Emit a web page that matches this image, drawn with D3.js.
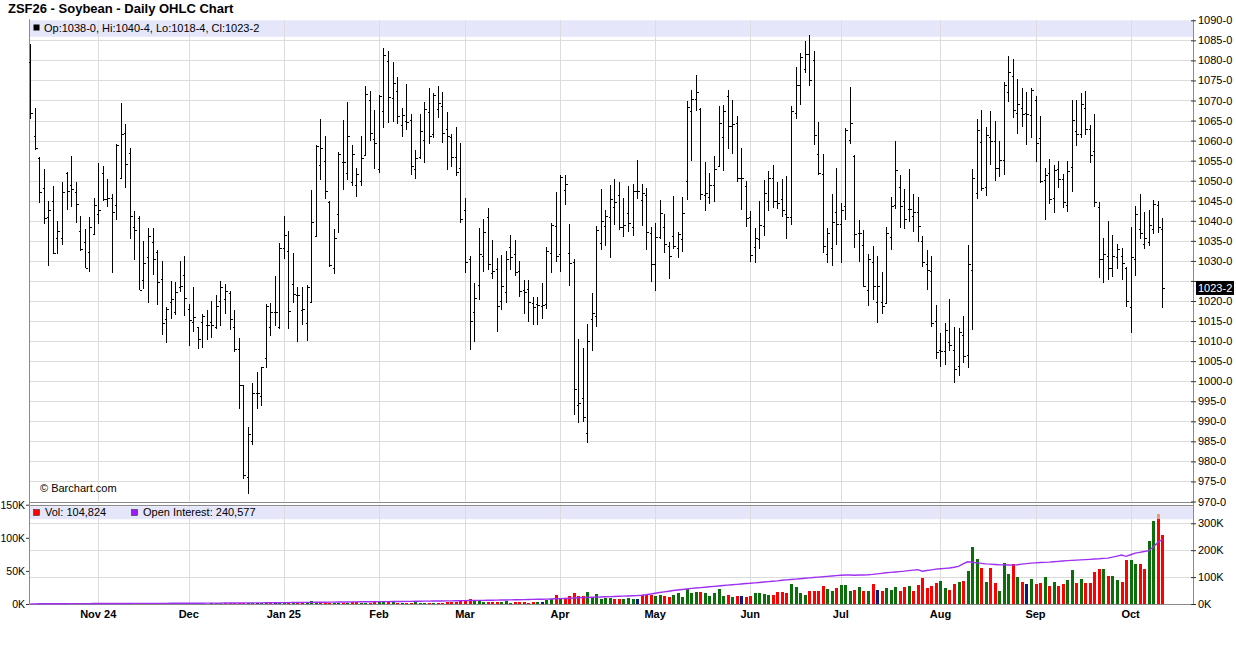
<!DOCTYPE html>
<html><head><meta charset="utf-8">
<script src="https://cdn.jsdelivr.net/npm/d3@7"></script>
<style>
body{margin:0;background:#fff;}
svg{display:block;font-family:"Liberation Sans",Arial,sans-serif;}
</style>
</head><body>
<svg id="c" width="1236" height="645"></svg>
<script>
// ---------------- DATA ----------------
const chartTitle = "ZSF26 - Soybean - Daily OHLC Chart";
const opens = [1079.5,1061.25,1055.75,1048.25,1041,1045,1035.75,1035.75,1052,1049,
1047.25,1037.5,1034.75,1032.25,1036.75,1041.75,1052,1045.5,1045.75,1044,
1050.75,1062,1057,1038.5,1040.75,1025.25,1031,1034.75,1032.25,1025.5,
1015.5,1019.75,1017.25,1023.5,1026.5,1018,1014.75,1013.5,1014.75,1014,
1014.75,1013.5,1020,1020.5,1022,1013.5,1008,999,976,985,
997,996.25,1005.75,1013.5,1017.25,1013.5,1033.25,1032.5,1024.25,1021.5,
1017.75,1014.5,1019.75,1036.25,1054,1055,1044.75,1028.25,1041.75,1054.75,
1052,1049.75,1049,1050,1056.5,1070,1060.5,1053,1067.5,1079.75,
1070.5,1072.25,1064,1065,1065.25,1053,1056,1060.25,1067.25,1061.75,
1068,1068.75,1063,1061,1056,1053.25,1042.75,1030.5,1017.25,1024,
1031.25,1041,1027,1028,1020,1022.25,1033.5,1031.75,1027.5,1022.75,
1023,1019.5,1019.25,1018.75,1019.25,1032,1038.75,1031.75,1047.75,1032,
1029.75,994,995.75,987,1015.5,1016.25,1034.5,1038.75,1041,1043.5,
1046.5,1038.5,1042,1038.5,1047.5,1045.25,1046.5,1037,1029.25,1036,
1038.5,1033.75,1036.25,1033.25,1035.5,1050,1067.5,1070.25,1068,1046.5,
1046,1049,1053.75,1061,1071,1063.75,1064.5,1050.75,1048.75,1041,
1033.5,1035.5,1038.75,1045,1050.75,1045,1045.5,1041.75,1041,1067,
1073.75,1077.75,1081.5,1080,1056.75,1051.75,1031.75,1033.25,1042.25,1039.25,
1043.75,1060.25,1056.25,1037,1034,1022.75,1029.75,1019.75,1019.75,1019.5,
1036,1044,1048.5,1045,1043,1041.25,1042.25,1035,1029.25,1027.5,
1015,1007.75,1007.5,1009.75,1007.75,1003.75,1011.5,1006.5,1027.75,1047,
1059.75,1048.5,1061,1060,1053.25,1055.25,1072,1076,1067,1068.25,
1067,1066.5,1070,1060.75,1050.25,1052,1045.75,1053,1050.5,1044,
1053.5,1062.5,1061.75,1068.25,1063,1057.5,1043.5,1030.5,1031.25,1028.25,
1031,1031.25,1028.25,1018.5,1030.5,1038,1034.25,1034.75,1038,1044,
1038];
const highs = [1084,1068,1055.75,1052.75,1044.75,1048.5,1039.75,1049.5,1052,1056,
1049.5,1041,1037.75,1040.75,1045.5,1054.25,1053.5,1050.25,1046.5,1059,
1069.25,1064,1058,1042.25,1041,1034.75,1038,1038,1032.5,1029.75,
1018.5,1024.75,1024.5,1029.75,1031,1019.25,1023.25,1013.5,1016.75,1017.75,
1020,1021.25,1024.75,1024,1022.25,1017.75,1010.75,999,988.5,999.5,
1002.25,1003.5,1019.25,1019.5,1026,1034.25,1041,1037.25,1031.75,1023.25,
1023.25,1023.75,1047.5,1058.75,1065.25,1061,1044.75,1037.75,1057,1065,
1069.5,1058.75,1053,1061,1073.5,1072.25,1067.5,1071.25,1083,1082.25,
1079.5,1075.75,1068,1074,1066.5,1057.5,1066.5,1069.5,1073,1071.75,
1073.5,1072,1067,1061.5,1063.25,1059.25,1045.5,1031,1024.25,1038,
1040.25,1043,1035,1030.5,1031.25,1032.25,1036.25,1035,1029.75,1025,
1025,1020.75,1020.75,1024.25,1033.25,1039.25,1047,1051.25,1051.25,1039,
1030.25,1010.5,1008.25,1014.25,1021.75,1038.5,1047.75,1042.5,1048.75,1050.25,
1049.5,1045.5,1048.5,1049,1055,1049,1048,1038.25,1039.25,1045,
1041.5,1034.5,1046,1037,1045.75,1069.75,1072.5,1076.25,1068,1054.5,
1051.75,1056,1068.5,1068.75,1072.5,1070,1066,1058,1049.75,1042.25,
1038,1044.75,1050,1052.25,1053.75,1049.5,1050.25,1051,1068.5,1078.25,
1081.75,1084.75,1086.25,1082.25,1064.5,1056.5,1038,1046.5,1053,1044.25,
1063,1073.25,1056.25,1040,1037.5,1031.5,1033.5,1031,1027,1038.25,
1045.75,1059.75,1051.25,1047.75,1052.75,1046.5,1045.75,1036,1032.5,1031,
1019,1012,1014.5,1020.25,1013.5,1013.25,1016.25,1033.75,1052.75,1065.25,
1067.5,1063.25,1067.25,1064.75,1059.75,1074.5,1081,1080.25,1075.25,1073,
1072,1073,1071,1066,1053,1055.25,1053.75,1054.75,1051.5,1054.75,
1070,1070,1071.75,1072.25,1063.75,1066.5,1044.5,1035.5,1039.75,1036.25,
1034,1033,1028.25,1038.25,1043.5,1046.5,1042,1042.5,1045,1044.75,
1040.5];
const lows = [1065.5,1057.75,1044.5,1039.25,1028.75,1031.75,1031.75,1034,1042.75,1043.5,
1039.5,1032.5,1028.25,1027.25,1036.5,1039.25,1045,1043.5,1027,1040.25,
1050.75,1048.25,1035.5,1030.25,1022.75,1023,1019.75,1026.5,1019.25,1011.75,
1009.75,1015.75,1016.75,1022.25,1016.5,1009,1012.5,1008.25,1008.5,1010.5,
1011,1013.25,1014,1017,1013,1007.5,993.25,975.75,972,984.25,
993.25,994,1003.5,1011.5,1014,1013.25,1030.5,1013.25,1019.75,1010,
1014.25,1010.25,1019.75,1036.25,1050.25,1045.5,1028.5,1026.75,1037,1047.75,
1050.25,1048.75,1046,1048.75,1056.5,1060,1053,1052,1063.25,1064.5,
1064.75,1064.25,1061,1062.75,1051.5,1050.5,1055.5,1054.5,1059.25,1060.75,
1065.75,1059.5,1052.75,1053.5,1051.25,1039.5,1027,1008,1010,1020.25,
1027.25,1027.75,1025.5,1012.5,1018,1019.75,1027.75,1026.25,1021,1017,
1015,1014.25,1014.25,1015.75,1018.25,1027,1029.75,1027.25,1044,1023.75,
991.75,989.75,990,984.75,1007.75,1013.75,1032.75,1033.75,1030.75,1039,
1037.75,1036,1037.25,1036.25,1045.5,1038.75,1032.75,1024.75,1022.5,1035.5,
1032,1025.5,1033,1030.75,1032.25,1045.25,1055,1067.5,1045.25,1042.5,
1044.25,1044.75,1053.75,1052.5,1058,1056.75,1049.75,1042.75,1038.5,1029.75,
1029.5,1033,1036.25,1042.5,1043.25,1043,1041,1035.5,1039,1065.5,
1069,1077,1073.75,1059,1051.5,1032,1029.5,1028.75,1034,1029.5,
1040.25,1059.25,1033.25,1029.75,1023.5,1019,1020.25,1014.75,1017,1019.5,
1032.75,1043,1038.25,1038,1039.75,1037.25,1034.75,1028.5,1022.75,1013.75,
1005.75,1003.75,1004.25,1007.75,999.75,1001.5,1004.75,1003.5,1013,1045.5,
1047.5,1046.25,1054,1050,1051,1051.5,1069.75,1065.75,1061.75,1063.5,
1059,1060.75,1054.75,1049.5,1040.25,1044.25,1042,1048.25,1043.25,1042.25,
1047.25,1058.75,1060.75,1061.5,1054.5,1043.5,1025.75,1024.5,1025.25,1026,
1028,1025.25,1018.75,1012.25,1026.25,1035.5,1033,1033.75,1036.75,1037,
1018.5];
const closes = [1067,1058.25,1047.25,1040.75,1042.75,1032,1037.5,1047.25,1047.5,1048,
1044.25,1033,1028.25,1038.5,1044,1042.75,1045.5,1045.75,1042.25,1059,
1061.75,1054.25,1041.25,1037.75,1022.75,1029.5,1036.25,1030.5,1024.75,1014.5,
1018,1020.5,1022.25,1023.75,1020.75,1015.25,1016,1010.5,1016.25,1014,
1014,1018.75,1023.5,1022.5,1015.5,1008,999,976.5,986.75,997,
997,1003.5,1018.75,1017.25,1017.25,1033.25,1036.5,1017.5,1021.75,1021.5,
1018,1023.5,1039.75,1058.75,1058.25,1047.5,1029,1035.75,1056.75,1054.75,
1061.25,1056.75,1051.75,1055.75,1071.5,1062,1059.5,1071,1081.25,1070.75,
1074.25,1066.25,1066.5,1064.75,1053.75,1055.75,1062.5,1068,1061.25,1071.25,
1069.5,1062,1061.25,1056,1052.25,1040.5,1029.75,1015,1020.75,1031.75,
1037.25,1029.25,1027.5,1018.75,1023.75,1030.5,1031,1027.25,1022.5,1022.25,
1019.75,1018.5,1019,1019,1032.5,1039,1031.25,1051,1049.25,1029.5,
998,994.5,991,1010,1017,1037.75,1040,1041.25,1045.5,1044.75,
1038.5,1039,1039.5,1047.5,1047.5,1047,1037.25,1029.25,1036,1042,
1034.25,1031.25,1033.75,1036.75,1042,1068.5,1070.25,1072,1046.75,1047,
1049,1053,1064.5,1067.5,1063.75,1064.25,1050.75,1050.75,1040.75,1031.5,
1035.75,1039,1047,1050.75,1045,1044.5,1042.75,1041,1067.5,1073.75,
1080.75,1081.5,1075,1061.5,1052,1033.75,1037,1039.75,1039.25,1042.75,
1062.75,1064.5,1036.75,1037,1023.75,1030.5,1023.75,1023.75,1018.75,1037,
1043.75,1052.75,1043.75,1040.5,1043,1042.25,1038.75,1029.75,1027.75,1014.5,
1007.25,1007.5,1012.75,1009,1003,1012.25,1006.25,1029.25,1050.75,1062.75,
1048.25,1061.5,1060,1053.25,1055.25,1073.75,1077,1067.75,1069.25,1066.75,
1066.75,1072.5,1059.5,1050,1051.5,1045.5,1052.75,1050.5,1044.75,1052.5,
1065.25,1061.75,1069.25,1063,1056.5,1044.75,1030.5,1031.75,1028.25,1031.25,
1033,1029.5,1020,1031,1041.75,1037,1035.75,1039,1044.25,1038.5,
1023.25];
// daily volume, thousands of contracts
const volumeK = [0.2,0.3,0.2,0.4,0.3,0.5,0.3,0.4,0.6,0.4,0.5,0.3,0.4,0.6,0.5,0.4,0.7,0.5,0.6,0.9,
1.8,0.6,0.8,0.5,0.7,0.6,0.8,0.5,0.6,0.7,0.9,0.6,0.8,0.7,0.5,0.9,
0.8,0.6,0.9,0.7,1.0,0.8,1.0,0.9,1.1,0.8,1.2,1.5,1.8,1.2,1.0,0.9,1.1,1.3,1.0,1.2,1.4,
1.2,1.5,1.3,1.6,1.4,4.5,2.5,2.0,1.8,1.6,1.9,2.2,1.7,2.0,3.0,2.4,2.0,1.8,2.2,2.6,2.8,3.5,3.0,2.4,2.0,
1.0,1.0,1.0,3.0,1.5,1.5,1.5,1.5,1.5,1.5,3.0,3.0,3.0,4.0,4.5,7.5,5.0,6.0,3.5,3.0,
3.0,3.0,3.5,4.5,1.5,3.0,3.0,3.0,1.5,3.0,3.0,3.0,6.0,7.5,13.5,7.5,7.5,12,16,12,
12,18,10,15,8,9,9,7.5,7.5,7.5,9,8,7.5,13.5,13.5,13.5,12,13,11.5,10,
13.5,16.5,10.5,22.5,16.5,18,18,16,12,16,22.5,12,13,10,12,12,10.5,12,16,16,
15,13.5,13.5,18,18,16.5,30,26,16.5,13.5,20,20,20,
26.7,22.7,19.6,23.7,28.7,28.7,19.6,21.1,25.7,19.6,19.6,30.2,21.1,19.6,24.2,21.1,25.7,19.6,26.2,27.2,
19.6,28.7,39.3,24.2,27.2,31.7,34.7,24.2,21.7,30.2,33.2,34.7,50.4,86.1,68,54.4,33.2,54.4,31.7,19.6,
61.9,45.3,60.4,40.8,33.2,30.2,37.8,30.2,31.7,40.8,27.2,33.2,27.2,30.2,36.3,51.4,31.7,37.8,31.7,31.7,
48.3,52.9,52.9,42.3,42.3,36.3,33.2,66.5,66.5,60.4,60.4,52.9,95.2,125.4,128.4,104.824];
// open interest, thousands of contracts
const openInterestK = [0.5,0.6,0.7,0.8,0.9,1.0,1.1,1.1,1.2,1.3,1.3,1.4,1.5,1.5,1.6,1.7,
1.8,1.8,1.9,2.0,2.0,2.1,2.1,2.2,2.2,2.3,2.3,2.4,2.4,2.5,2.5,2.6,2.6,2.7,2.7,2.8,
2.9,3.0,3.0,3.1,3.2,3.3,3.4,3.5,3.6,3.7,3.8,3.9,4.0,4.1,4.2,4.3,4.4,4.5,4.6,4.8,5.0,
5.1,5.3,5.5,5.7,5.9,6.1,6.3,6.5,6.7,6.9,7.0,7.2,7.4,7.6,7.8,8.0,8.2,8.3,8.5,8.6,8.7,
8.8,9.0,9.1,9.3,9.5,9.7,9.9,10.1,10.3,10.5,10.7,10.9,11.1,11.3,11.5,11.8,12.0,12.3,12.5,
12.8,13.1,13.4,13.6,13.9,14.2,14.5,14.8,15.1,15.4,15.7,16.0,16.3,16.7,17.0,17.4,17.8,18.2,18.7,19.3,20.0,
20.7,21.5,22.3,23.0,23.7,24.3,25.0,25.6,26.2,26.8,27.4,28.0,28.6,29.2,29.8,30.4,31.0,32.5,34.5,37.0,40.0,
42.5,45.0,47.5,50.0,52.0,54.0,56.0,58.0,59.5,61.0,62.5,64.0,65.5,67.0,68.5,70.0,71.5,73.0,74.5,76.0,77.0,
78.5,80.0,81.5,83.0,84.5,86.0,88.0,89.5,91.0,92.5,94.0,95.5,97.0,98.5,100.0,101.0,102.5,104.0,105.5,107.0,
107.5,107.5,107.0,107.5,108.0,108.5,110.0,112.0,114.0,116.0,117.5,119.0,120.5,122.0,124.0,126.0,127.5,122.0,124.5,127.0,129.5,
131.0,132.5,134.0,136.5,140.0,149.0,157.0,155.0,153.0,151.0,149.0,148.0,147.0,146.0,145.5,145.0,144.5,146.0,148.0,150.0,152.0,
153,154,154.5,155.5,157,158.5,160,161,162,163,
164,165,166,167,168,169.5,170.5,174,178,182,177,183,189,192,195,198,212,228,240.577];
// extra (lighter) cap drawn on one volume bar
const volumeCapIdx = [249];
const volumeCapK = [7.6];
// x-axis month labels and the bar index where each month starts
const monthLabels = ["Nov 24","Dec","Jan 25","Feb","Mar","Apr","May","Jun","Jul","Aug","Sep","Oct"];
const monthStartIdx = [15,35,56,77,96,117,138,159,179,201,222,243];
const priceTicks = [970,975,980,985,990,995,1000,1005,1010,1015,1020,1025,1030,1035,1040,1045,1050,1055,1060,1065,1070,1075,1080,1085,1090];
const volLeftTicks = [0,50000,100000,150000];
const oiRightTicks = [0,100000,200000,300000];

// ---------------- CHECK ----------------
const n = closes.length;
[opens,highs,lows,volumeK,openInterestK].forEach((a,k)=>{ if(a.length!==n) throw new Error("len mismatch "+k+": "+a.length+" vs "+n); });

// ---------------- LAYOUT ----------------
const plotL = 29, plotR = 1194;
const mainTop = 20.3, mainBot = 501.5;
const volTop = 504.7, volBot = 604;
const svg = d3.select("#c");
const idx = d3.range(n);
const x = d3.scalePoint().domain(idx).range([plotL, plotR]).padding(3.645).align(0.0394);
const y = d3.scaleLinear().domain([970,1090]).range([mainBot, mainTop]);
const vy = d3.scaleLinear().domain([0,150000]).range([volBot, volTop]);
const oy = d3.scaleLinear().domain([0,369000]).range([volBot, volTop]);
const fmtPrice = v => { const w = Math.floor(v); return w + "-" + Math.round((v - w) * 8); };
const fmtK = v => (v/1000) + "K";
const gridC = "#dcdcdc", axisC = "#8a8a8a";
const px = v => Math.round(v) + 0.5;
const last = n-1;
const yl = y(closes[last]);

// title
svg.append("text").attr("x",8).attr("y",13).attr("font-size",13).attr("font-weight","bold").attr("fill","#000").text(chartTitle);

// legend bands
svg.append("rect").attr("x",plotL).attr("y",mainTop).attr("width",plotR-plotL).attr("height",16.5).attr("fill","#e6e6fa");
svg.append("rect").attr("x",plotL).attr("y",volTop+1.5).attr("width",plotR-plotL).attr("height",13).attr("fill","#e6e6fa");

// grids
const g = svg.append("g").attr("stroke",gridC).attr("stroke-width",1);
priceTicks.filter(t=>t>970 && t<1090).forEach(t=>{
  g.append("line").attr("x1",plotL).attr("x2",plotR).attr("y1",px(y(t))).attr("y2",px(y(t)));
});
oiRightTicks.filter(t=>t>0).forEach(t=>{
  g.append("line").attr("x1",plotL).attr("x2",plotR).attr("y1",px(oy(t))).attr("y2",px(oy(t)));
});
monthStartIdx.forEach(i=>{
  g.append("line").attr("x1",px(x(i))).attr("x2",px(x(i))).attr("y1",mainTop).attr("y2",mainBot);
  g.append("line").attr("x1",px(x(i))).attr("x2",px(x(i))).attr("y1",volTop).attr("y2",volBot);
});

// frame
const fr = svg.append("g").attr("stroke",axisC).attr("stroke-width",1);
fr.append("line").attr("x1",plotL+0.5).attr("x2",plotL+0.5).attr("y1",mainTop-1).attr("y2",volBot);
fr.append("line").attr("x1",plotR-0.5).attr("x2",plotR-0.5).attr("y1",mainTop-1).attr("y2",volBot);
fr.append("line").attr("x1",plotL).attr("x2",plotR).attr("y1",px(mainBot)).attr("y2",px(mainBot));
fr.append("line").attr("x1",plotL).attr("x2",plotR).attr("y1",px(volTop)).attr("y2",px(volTop));
fr.append("line").attr("x1",plotL).attr("x2",plotR).attr("y1",px(volBot)).attr("y2",px(volBot));

// price axis (right)
const pa = svg.append("g").attr("transform",`translate(${plotR-3},0)`)
  .call(d3.axisRight(y).tickValues(priceTicks).tickFormat(fmtPrice).tickSize(5).tickPadding(2));
pa.select(".domain").remove();
pa.selectAll("line").attr("stroke","#333");
pa.selectAll("text").attr("font-size",11).attr("fill","#000").attr("font-family","Liberation Sans, Arial, sans-serif");
// the last-price marker hides the label it covers
pa.selectAll(".tick").filter(t=>Math.abs(y(t)-yl) < 11).select("text").remove();

// volume left axis
const va = svg.append("g").attr("transform",`translate(${plotL},0)`)
  .call(d3.axisLeft(vy).tickValues(volLeftTicks).tickFormat(fmtK).tickSize(3).tickPadding(1));
va.select(".domain").remove();
va.selectAll("line").attr("stroke","#333");
va.selectAll("text").attr("font-size",10.5).attr("fill","#000").attr("font-family","Liberation Sans, Arial, sans-serif");

// OI right axis
const oa = svg.append("g").attr("transform",`translate(${plotR-3},0)`)
  .call(d3.axisRight(oy).tickValues(oiRightTicks).tickFormat(fmtK).tickSize(5).tickPadding(2));
oa.select(".domain").remove();
oa.selectAll("line").attr("stroke","#333");
oa.selectAll("text").attr("font-size",11).attr("fill","#000").attr("font-family","Liberation Sans, Arial, sans-serif");

// month labels
svg.append("g").selectAll("text").data(monthStartIdx).join("text")
  .attr("x",i=>x(i)).attr("y",618).attr("text-anchor","middle")
  .attr("font-size",11).attr("font-weight","bold").attr("fill","#000")
  .text((i,k)=>monthLabels[k]);

// OHLC bars
const bars = svg.append("g").attr("stroke","#000").attr("stroke-width",1).attr("shape-rendering","crispEdges");
idx.forEach(i=>{
  const cx = Math.round(x(i)) + 0.5;
  bars.append("line").attr("x1",cx).attr("x2",cx).attr("y1",y(highs[i])-0.5).attr("y2",y(lows[i])+0.5);
  const yo = Math.round(y(opens[i])) + 0.5, yc = Math.round(y(closes[i])) + 0.5;
  bars.append("line").attr("x1",cx-2).attr("x2",cx).attr("y1",yo).attr("y2",yo);
  bars.append("line").attr("x1",cx).attr("x2",cx+2).attr("y1",yc).attr("y2",yc);
});

// volume bars
const volColor = i => {
  if (i === 0) return "#0a6e0a";
  const d = closes[i] - closes[i-1];
  return d > 0 ? "#0a6e0a" : d < 0 ? "#ff0000" : "#0a1a78";
};
svg.append("g").selectAll("rect").data(idx).join("rect")
  .attr("x",i=>Math.round(x(i))-1).attr("width",3)
  .attr("y",i=>vy(volumeK[i]*1000)).attr("height",i=>volBot - vy(volumeK[i]*1000))
  .attr("fill",volColor).attr("shape-rendering","crispEdges");
svg.append("g").selectAll("rect").data(volumeCapIdx).join("rect")
  .attr("x",i=>Math.round(x(i))-1).attr("width",3)
  .attr("y",(i,k)=>vy((volumeK[i]+volumeCapK[k])*1000))
  .attr("height",(i,k)=>vy(volumeK[i]*1000)-vy((volumeK[i]+volumeCapK[k])*1000))
  .attr("fill","#e8a070").attr("shape-rendering","crispEdges");

// open interest line
svg.append("path").datum(idx)
  .attr("d", d3.line().x(i=>x(i)).y(i=>oy(openInterestK[i]*1000)))
  .attr("fill","none").attr("stroke","#a030f0").attr("stroke-width",1.4);

// legends
svg.append("rect").attr("x",33.5).attr("y",24.5).attr("width",6).attr("height",6).attr("fill","#000");
svg.append("text").attr("x",44).attr("y",31.5).attr("font-size",11).attr("fill","#000")
  .text(`Op:${fmtPrice(opens[last])}, Hi:${fmtPrice(highs[last])}, Lo:${fmtPrice(lows[last])}, Cl:${fmtPrice(closes[last])}`);
svg.append("rect").attr("x",33.5).attr("y",509.5).attr("width",6).attr("height",6).attr("fill","#ff0000").attr("stroke","#333").attr("stroke-width",0.6);
svg.append("text").attr("x",45).attr("y",516).attr("font-size",11).attr("fill","#000")
  .text(`Vol: ${d3.format(",")(Math.round(volumeK[last]*1000))}`);
svg.append("rect").attr("x",131.5).attr("y",509.5).attr("width",6).attr("height",6).attr("fill","#9a1aff").attr("stroke","#333").attr("stroke-width",0.6);
svg.append("text").attr("x",143).attr("y",516).attr("font-size",11).attr("fill","#000")
  .text(`Open Interest: ${d3.format(",")(Math.round(openInterestK[last]*1000))}`);

// watermark
svg.append("text").attr("x",40).attr("y",492).attr("font-size",11).attr("fill","#000").text("© Barchart.com");

// last price marker
svg.append("rect").attr("x",plotR+2).attr("y",yl-7).attr("width",38).attr("height",14).attr("fill","#000");
svg.append("text").attr("x",plotR+4).attr("y",yl+4).attr("font-size",11).attr("fill","#fff").text(fmtPrice(closes[last]));
</script>
</body></html>
